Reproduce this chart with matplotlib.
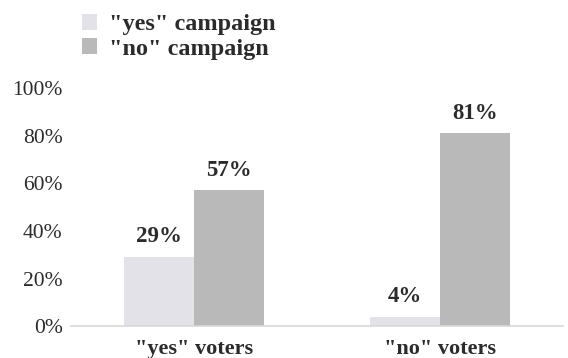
import matplotlib.pyplot as plt
import numpy as np

groups = ['"yes" voters', '"no" voters']
series = ['"yes" campaign', '"no" campaign']
yes_campaign = [29, 4]
no_campaign = [57, 81]
colors = ['#e2e2e8', '#b9b9b9']

plt.rcParams['font.family'] = ['Liberation Serif', 'DejaVu Serif']

fig = plt.figure(figsize=(5.68, 3.58), dpi=100)
ax = fig.add_axes([0.125, 0.089, 0.866, 0.665])

x = np.arange(len(groups))
w = 0.285
b1 = ax.bar(x - w / 2, yes_campaign, w, color=colors[0], label=series[0])
b2 = ax.bar(x + w / 2, no_campaign, w, color=colors[1], label=series[1])

for bars, vals in [(b1, yes_campaign), (b2, no_campaign)]:
    for b, v in zip(bars, vals):
        ax.annotate(f'{v}%', (b.get_x() + b.get_width() / 2, v),
                    xytext=(0, 7), textcoords='offset points',
                    ha='center', va='bottom', fontsize=16.5,
                    fontweight='bold', color='#2b2b2b')

ax.set_xlim(-0.5, 1.5)
ax.set_ylim(0, 100)
ax.set_yticks(range(0, 101, 20))
ax.set_yticklabels([f'{t}%' for t in range(0, 101, 20)])
ax.set_xticks(x)
ax.set_xticklabels(groups, fontweight='bold')
ax.tick_params(axis='y', length=0, labelsize=15.5, labelcolor='#2b2b2b', pad=6)
ax.tick_params(axis='x', length=0, labelsize=16, labelcolor='#2b2b2b', pad=9)

for s in ['top', 'right', 'left']:
    ax.spines[s].set_visible(False)
ax.spines['bottom'].set_color('#d8d8d8')
ax.spines['bottom'].set_linewidth(1.2)

leg = fig.legend(loc='upper left', bbox_to_anchor=(0.135, 0.975), frameon=False,
                 prop={'weight': 'bold', 'size': 17.5}, handlelength=0.65,
                 handleheight=0.65, handletextpad=0.5, labelspacing=0.1,
                 borderaxespad=0, borderpad=0.2)
for t in leg.get_texts():
    t.set_color('#2b2b2b')

plt.savefig('out.png', dpi=100)
